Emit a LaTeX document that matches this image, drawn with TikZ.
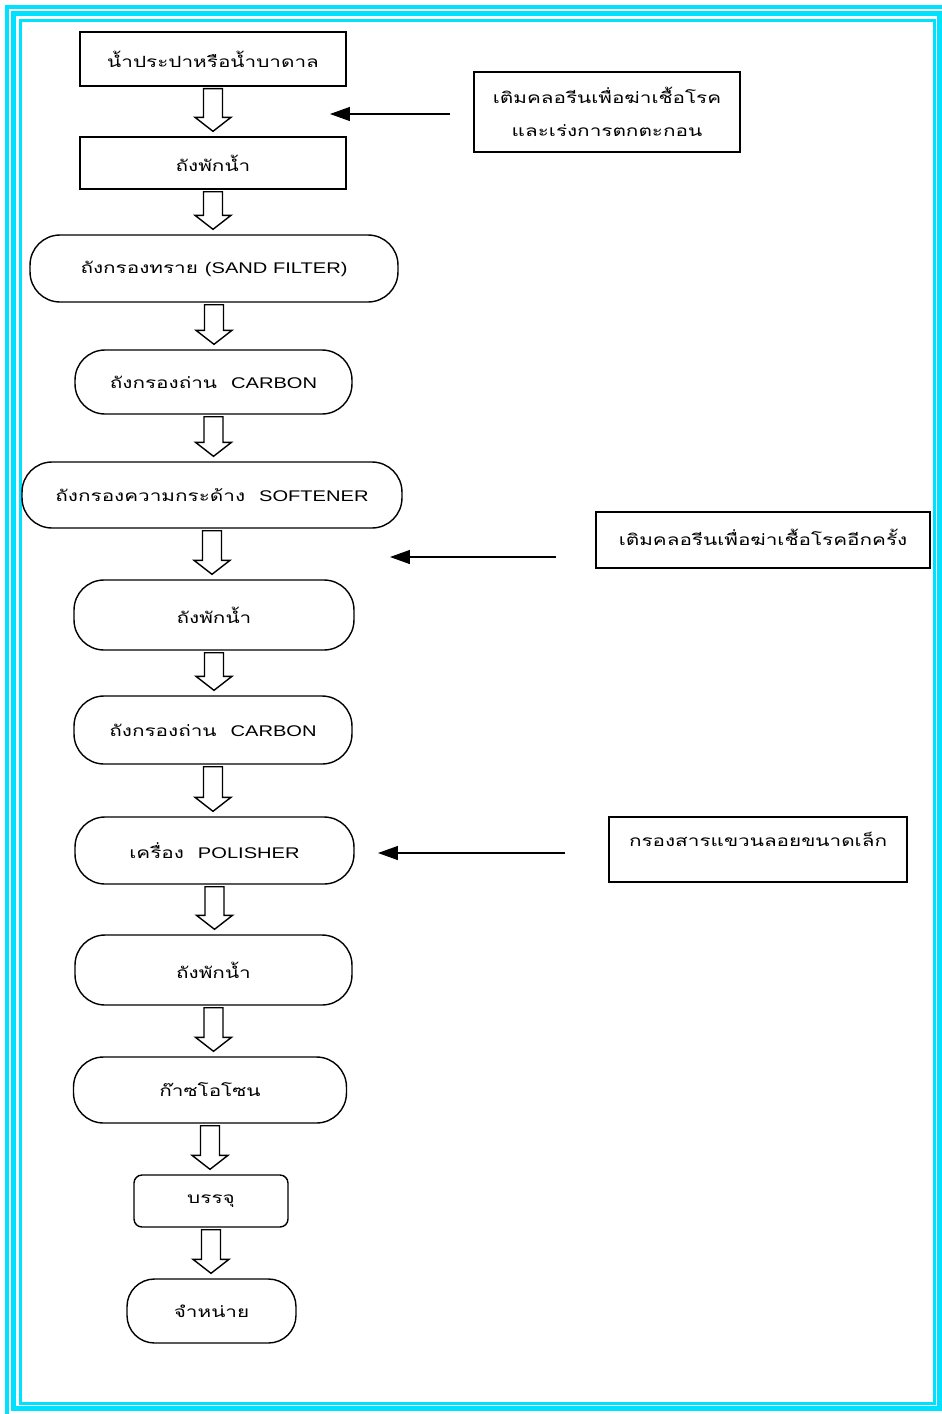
\documentclass[tikz,border=0pt]{standalone}
\usepackage{fontspec}
\setmainfont[Script=Thai,FakeStretch=1.34]{Loma}
\newfontfamily\latinfont[FakeStretch=1.3]{Liberation Sans}
\newcommand{\eng}[1]{{\latinfont #1}}
\usetikzlibrary{calc}
\usetikzlibrary{arrows.meta}
\definecolor{framecyan}{RGB}{0,225,255}

\begin{document}
\begin{tikzpicture}[x=0.02cm,y=-0.02cm,font=\fontsize{8.8}{12}\selectfont,
    >={Triangle[length=0.4cm,width=0.28cm]},
    box/.style={draw,line width=0.8pt,inner sep=0pt},
    tank/.style={draw,line width=0.8pt,rounded corners=0.6cm,inner sep=0pt},
    note/.style={draw,line width=0.8pt,inner sep=0pt,align=center},
    flow/.style={draw,line width=0.8pt,fill=white,to path={
      let \p1=(\tikztostart), \p2=(\tikztotarget) in
      (\x1-0.19cm,\y1-0.04cm) -- (\x1-0.19cm,\y2+0.38cm) -- (\x1-0.36cm,\y2+0.38cm)
      -- (\x1,\y2+0.1cm) -- (\x1+0.36cm,\y2+0.38cm) -- (\x1+0.19cm,\y2+0.38cm)
      -- (\x1+0.19cm,\y1-0.04cm) -- cycle}}]
  \useasboundingbox (0,0) rectangle (941,1414);
  % frame
  \draw [framecyan,line width=0.08cm] (7,7) rectangle (946,1418);
  \draw [framecyan,line width=0.1cm] (13.5,13.5) rectangle (939.5,1408.5);
  \draw [framecyan,line width=0.07cm] (20.5,20.5) rectangle (934.5,1403.5);
  % main column
  \node[box,minimum width=5.32cm,minimum height=1.08cm] (tap) at (213,59) {น้ำประปาหรือน้ำบาดาล};
  \node[box,minimum width=5.32cm,minimum height=1.04cm] (hold1) at (213,163) {ถังพักน้ำ};
  \node[tank,minimum width=7.36cm,minimum height=1.34cm] (sand) at (214,268.5) {ถังกรองทราย \eng{(SAND FILTER)}};
  \node[tank,minimum width=5.54cm,minimum height=1.28cm] (carb1) at (213.5,382) {ถังกรองถ่าน\ \ \eng{CARBON}};
  \node[tank,minimum width=7.6cm,minimum height=1.32cm] (soft) at (212,495) {ถังกรองความกระด้าง\ \ \eng{SOFTENER}};
  \node[tank,minimum width=5.6cm,minimum height=1.4cm] (hold2) at (214,615) {ถังพักน้ำ};
  \node[tank,minimum width=5.56cm,minimum height=1.36cm] (carb2) at (213,730) {ถังกรองถ่าน\ \ \eng{CARBON}};
  \node[tank,minimum width=5.58cm,minimum height=1.34cm] (pol) at (214.5,850.5) {เครื่อง\ \ \eng{POLISHER}};
  \node[tank,minimum width=5.54cm,minimum height=1.4cm] (hold3) at (213.5,970) {ถังพักน้ำ};
  \node[tank,minimum width=5.46cm,minimum height=1.32cm] (ozone) at (210,1090) {ก๊าซโอโซน};
  \node[box,rounded corners=0.16cm,minimum width=3.08cm,minimum height=1.04cm] (pack) at (211,1201) {บรรจุ};
  \node[tank,rounded corners=0.55cm,minimum width=3.38cm,minimum height=1.28cm] (sell) at (211.5,1311) {จำหน่าย};
  % side notes
  \node[note,font={\fontsize{8.8}{18.7}\selectfont},minimum width=5.32cm,minimum height=1.6cm] (chlor1) at (607,112)
    {เติมคลอรีนเพื่อฆ่าเชื้อโรค\\และเร่งการตกตะกอน};
  \node[note,text depth=0.12cm,minimum width=6.68cm,minimum height=1.12cm] (chlor2) at (763,540) {เติมคลอรีนเพื่อฆ่าเชื้อโรคอีกครั้ง};
  \node[note,text depth=0.42cm,minimum width=5.96cm,minimum height=1.3cm] (fine) at (758,849.5) {กรองสารแขวนลอยขนาดเล็ก};
  \coordinate (in1) at (450,114);  \coordinate (to1) at (330,114);
  \coordinate (in2) at (556,557);  \coordinate (to2) at (390,557);
  \coordinate (in3) at (565,853);  \coordinate (to3) at (378,853);
  % flow arrows
  \draw [flow] (tap.south) to (hold1.north);
  \draw [flow] (hold1.south) to (sand.north);
  \draw [flow] (sand.south) to (carb1.north);
  \draw [flow] (carb1.south) to (soft.north);
  \draw [flow] (soft.south) to (hold2.north);
  \draw [flow] (hold2.south) to (carb2.north);
  \draw [flow] (carb2.south) to (pol.north);
  \draw [flow] (pol.south) to (hold3.north);
  \draw [flow] (hold3.south) to (ozone.north);
  \draw [flow] (ozone.south) to (pack.north);
  \draw [flow] (pack.south) to (sell.north);
  % dosing arrows
  \draw [line width=0.8pt,->] (in1) -- (to1);
  \draw [line width=0.8pt,->] (in2) -- (to2);
  \draw [line width=0.8pt,->] (in3) -- (to3);
\end{tikzpicture}
\end{document}
